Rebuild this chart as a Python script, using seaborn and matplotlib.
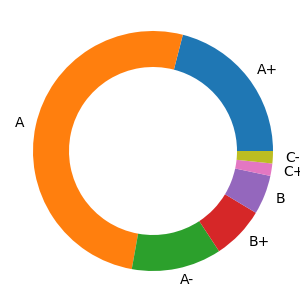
import matplotlib
matplotlib.use("Agg")
import matplotlib.pyplot as plt
import seaborn as sns

grades = ["A+", "A", "A-", "B+", "B", "C+", "C-"]
counts = [75.6, 184.2, 43.6, 25.6, 19.0, 6.0, 6.0]
palette_index = [0, 1, 2, 3, 4, 6, 8]

sns.set_style("white")
tab10 = sns.color_palette("tab10", 10)
colors = [tab10[i] for i in palette_index]

fig = plt.figure(figsize=(3, 3), dpi=100)
ax = fig.add_axes([0, 0, 1, 1])
ax.pie(counts, labels=grades, colors=colors, startangle=0,
       counterclock=True, wedgeprops=dict(width=0.3, linewidth=0),
       textprops=dict(fontsize=10, color="black"))
ax.set_aspect("equal")
ax.set_xlim(-153 / 120, 147 / 120)
ax.set_ylim(-149 / 120, 151 / 120)
ax.axis("off")
fig.savefig("out.png", dpi=100)
